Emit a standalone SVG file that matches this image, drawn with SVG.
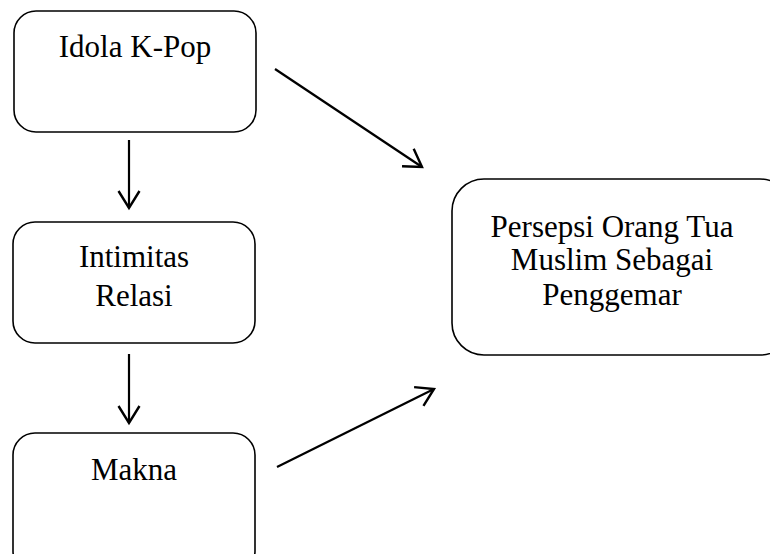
<svg xmlns="http://www.w3.org/2000/svg" width="770" height="554" viewBox="0 0 770 554">
<defs>
<style>
.box{fill:#fff;stroke:#000;stroke-width:1.6}
.t{font-family:"Liberation Serif","Times New Roman",serif;font-size:31px;fill:#000;text-anchor:middle}
.c{stroke:#000;stroke-width:2.2;fill:none}
</style>
<marker id="ah" markerUnits="userSpaceOnUse" markerWidth="30" markerHeight="30" viewBox="-22 -15 27 30" refX="0" refY="0" orient="auto">
<path d="M-17,-10.5 L0,0 L-17,10.5" fill="none" stroke="#000" stroke-width="2.4"/>
</marker>
</defs>
<rect width="770" height="554" fill="#fff"/>
<g id="n1"><rect class="box" x="14" y="11" width="242" height="121" rx="22"/><text class="t" x="135" y="57">Idola K-Pop</text></g>
<g id="n2"><rect class="box" x="13" y="222" width="242" height="121" rx="22"/><text class="t" x="134" y="267">Intimitas</text><text class="t" x="134" y="306">Relasi</text></g>
<g id="n3"><rect class="box" x="13" y="433" width="242" height="140" rx="22"/><text class="t" x="134" y="480">Makna</text></g>
<g id="n4"><rect class="box" x="452" y="179" width="340" height="176" rx="32"/><text class="t" x="612" y="237">Persepsi Orang Tua</text><text class="t" x="612" y="270">Muslim Sebagai</text><text class="t" x="612" y="305">Penggemar</text></g>
<g id="connectors">
<line class="c" x1="129" y1="140" x2="129" y2="208" marker-end="url(#ah)"/>
<line class="c" x1="129" y1="354" x2="129" y2="423" marker-end="url(#ah)"/>
<line class="c" x1="275" y1="69" x2="422" y2="167" marker-end="url(#ah)"/>
<line class="c" x1="277" y1="467" x2="434" y2="389" marker-end="url(#ah)"/>
</g>
</svg>
